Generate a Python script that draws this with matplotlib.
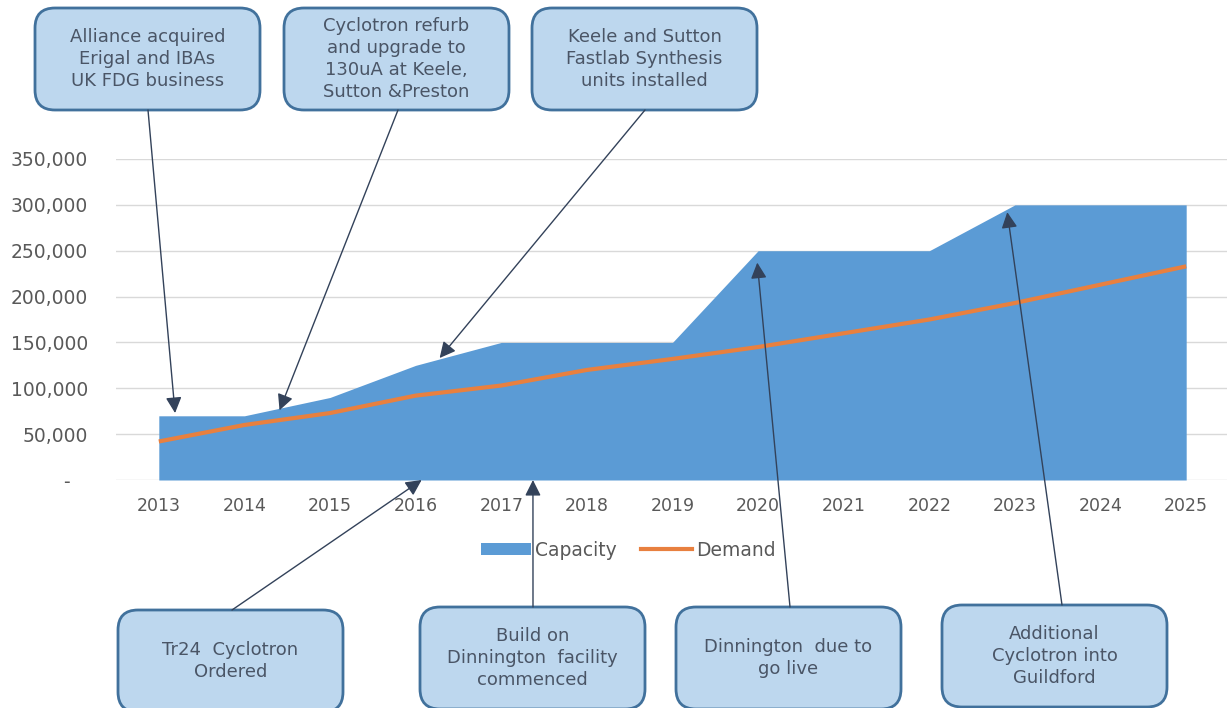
import numpy as np
import matplotlib
matplotlib.use("Agg")
from matplotlib import pyplot as plt
from matplotlib.patches import FancyBboxPatch, Patch
from matplotlib.lines import Line2D
from matplotlib.ticker import FuncFormatter

# Chart data
years = [2013, 2014, 2015, 2016, 2017, 2018, 2019, 2020, 2021, 2022, 2023, 2024, 2025]
capacity = [70000, 70000, 90000, 125000, 150000, 150000, 150000,
            250000, 250000, 250000, 300000, 300000, 300000]
demand = [42000, 60000, 73000, 92000, 103000, 120000, 132000,
          145000, 160000, 175000, 193000, 213000, 233000]

# Callout texts and the (year, value) each one points at
top_notes = ["Alliance acquired\nErigal and IBAs\nUK FDG business",
             "Cyclotron refurb\nand upgrade to\n130uA at Keele,\nSutton &Preston",
             "Keele and Sutton\nFastlab Synthesis\nunits installed"]
top_targets = [(2013.19, 73000), (2014.41, 76000), (2016.28, 133000)]

bottom_notes = ["Tr24  Cyclotron\nOrdered",
                "Build on\nDinnington  facility\ncommenced",
                "Dinnington  due to\ngo live",
                "Additional\nCyclotron into\nGuildford"]
bottom_targets = [(2016.07, 0), (2017.37, 0), (2019.99, 237000), (2022.91, 292000)]

# Colours
AREA = "#5B9BD5"
LINE = "#E8803F"
GRID = "#D9D9D9"
TICK = "#595959"
BOX_FACE = "#BDD7EE"
BOX_EDGE = "#41719C"
BOX_TEXT = "#4A5566"
ARROW = "#33425A"

W, H = 1227, 708
fig = plt.figure(figsize=(W / 100, H / 100), dpi=100)
fig.patch.set_facecolor("white")

# Main chart axes
ax = fig.add_axes([116 / W, 1 - 480 / H, (1229 - 116) / W, (480 - 159) / H])
ax.fill_between(years, capacity, color=AREA, lw=0, zorder=2)
ax.plot(years, demand, color=LINE, lw=3, zorder=3, solid_capstyle="butt")

ax.set_xlim(2012.5, 2025.5)
ax.set_ylim(0, 350000)
ax.set_yticks(np.arange(0, 350001, 50000))
ax.set_xticks(years)
ax.yaxis.set_major_formatter(FuncFormatter(lambda v, p: "-   " if v == 0 else f"{v:,.0f}"))
ax.grid(axis="y", color=GRID, lw=1, zorder=0)
ax.grid(axis="x", visible=False)
ax.set_axisbelow(True)
for s in ax.spines.values():
    s.set_visible(False)
ax.tick_params(axis="y", length=0, pad=20, labelsize=13.5, labelcolor=TICK)
ax.tick_params(axis="x", length=0, pad=12, labelsize=12.5, labelcolor=TICK)

handles = [Patch(facecolor=AREA, edgecolor="none"),
           Line2D([0], [0], color=LINE, lw=3)]
ax.legend(handles, ["Capacity", "Demand"], loc="center",
          bbox_to_anchor=(628 / W, 1 - 550 / H), bbox_transform=fig.transFigure,
          ncol=2, frameon=False, fontsize=13.5, labelcolor=TICK,
          handlelength=2.7, handleheight=0.55, handletextpad=0.2, columnspacing=1.3)

# Overlay in pixel coordinates for the callout boxes and arrows
ov = fig.add_axes([0, 0, 1, 1])
ov.set_xlim(0, W)
ov.set_ylim(H, 0)
ov.axis("off")
ov.patch.set_alpha(0)

top_boxes = [(35, 8), (284, 8), (532, 8)]
bottom_boxes = [(118, 610), (420, 607), (676, 607), (942, 605)]
BW, BH = 225, 102


def draw_box(x, y, text):
    ov.add_patch(FancyBboxPatch((x, y), BW, BH,
                                boxstyle="round,pad=0,rounding_size=20",
                                facecolor=BOX_FACE, edgecolor=BOX_EDGE, lw=2, zorder=2))
    ov.text(x + BW / 2, y + BH / 2, text, ha="center", va="center",
            fontsize=13, color=BOX_TEXT, linespacing=1.3, zorder=3)


def draw_arrow(start, target):
    ov.annotate("", xy=target, xycoords=ax.transData,
                xytext=start, textcoords="data",
                arrowprops=dict(arrowstyle="-|>", color=ARROW, lw=1,
                                mutation_scale=24, shrinkA=0, shrinkB=0),
                zorder=4)


top_starts = [(148, 110), (398, 110), (645, 110)]
for (x, y), text, start, tgt in zip(top_boxes, top_notes, top_starts, top_targets):
    draw_box(x, y, text)
    draw_arrow(start, tgt)

bottom_starts = [(232, 610), (533, 607), (790, 607), (1062, 605)]
for (x, y), text, start, tgt in zip(bottom_boxes, bottom_notes, bottom_starts, bottom_targets):
    draw_box(x, y, text)
    draw_arrow(start, tgt)

fig.savefig("out.png", dpi=100)
